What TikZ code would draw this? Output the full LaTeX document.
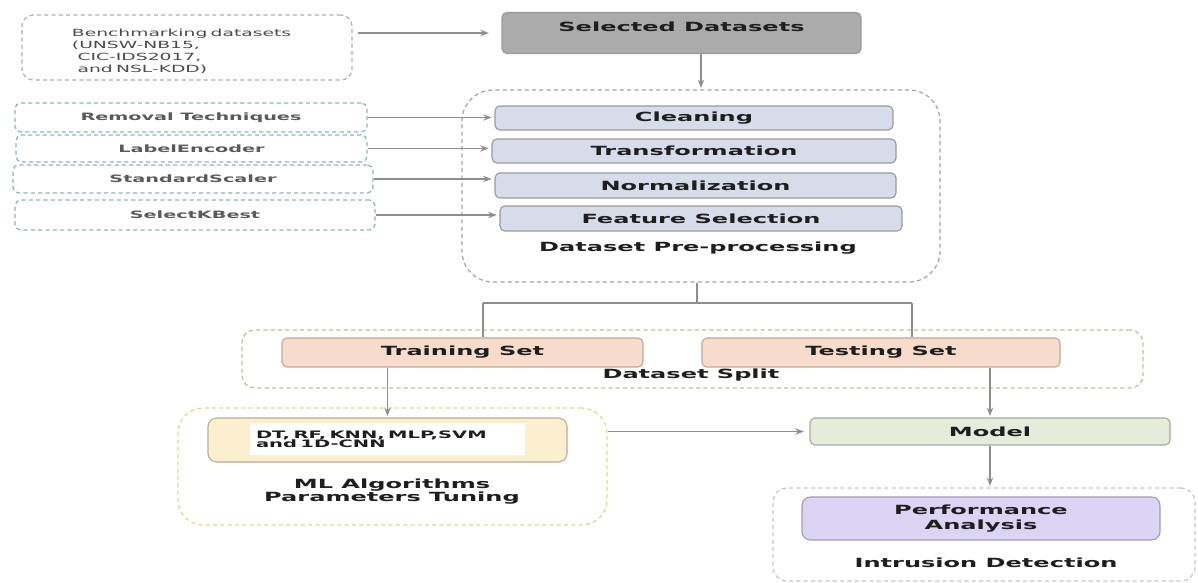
\documentclass[tikz,border=0pt]{standalone}
\usepackage{fontspec}
\usetikzlibrary{arrows.meta}
\newfontfamily\wdfont[FakeStretch=1.9]{DejaVu Sans}
\newcommand\mainlbl{\wdfont\bfseries\fontsize{9}{10.5}\selectfont}
\newcommand\sidelbl{\wdfont\bfseries\fontsize{7.2}{8.5}\selectfont}
\newcommand\benchlbl{\wdfont\fontsize{7}{8.5}\selectfont}
\newcommand\algolbl{\wdfont\bfseries\fontsize{7.3}{6.6}\selectfont}

\definecolor{conncol}{HTML}{8E8E8E}
\definecolor{solidline}{HTML}{9A9A9A}
\definecolor{selfill}{HTML}{ABABAB}
\definecolor{prefill}{HTML}{D7DCEA}
\definecolor{splitfill}{HTML}{F8DCCB}
\definecolor{splitline}{HTML}{C2A897}
\definecolor{algofill}{HTML}{FCEFCF}
\definecolor{algoline}{HTML}{BBAE92}
\definecolor{modelfill}{HTML}{E5ECD9}
\definecolor{modelline}{HTML}{A6AC9E}
\definecolor{perffill}{HTML}{DCD4F4}
\definecolor{perfline}{HTML}{A09AB8}
\definecolor{benchdash}{HTML}{B0B0B0}
\definecolor{sidedash}{HTML}{8FB3BD}
\definecolor{predash}{HTML}{A0A7AE}
\definecolor{splitdash}{HTML}{C6BD98}
\definecolor{algodash}{HTML}{E2D98C}
\definecolor{intrdash}{HTML}{C8C8C8}
\definecolor{sidetext}{HTML}{5A5A5A}
\definecolor{benchtext}{HTML}{4A4A4A}
\definecolor{maintext}{HTML}{1E1E1E}

\tikzset{
  sz/.style 2 args={minimum width=#1*0.025cm, minimum height=#2*0.025cm},
  solidbox/.style={draw=solidline, line width=0.8pt, rounded corners=3.5pt,
    inner sep=0pt, font=\mainlbl, text=maintext},
  dashbox/.style={draw=#1, dashed, dash pattern=on 3pt off 2.2pt,
    line width=0.9pt, inner sep=0pt},
  sidebox/.style={dashbox=sidedash, rounded corners=4pt, font=\sidelbl, text=sidetext},
  caption/.style={font=\mainlbl, text=maintext, align=center, inner sep=0pt},
  conn/.style={draw=conncol, line width=1.1pt},
  arr/.style={conn, -{Stealth[length=6pt,width=4.5pt]}},
}

\begin{document}
\begin{tikzpicture}[x=0.025cm, y=-0.025cm]
\useasboundingbox[fill=white] (0,0) rectangle (1198,583);

% source datasets
\node[dashbox=benchdash, rounded corners=8pt, sz={330}{65}, text width=5.75cm,
      inner xsep=1.25cm, align=left, font=\benchlbl, text=benchtext, text height=11pt]
  (bench) at (187,47.5)
  {Benchmarking datasets\\(UNSW-NB15,\\\hspace*{4pt}CIC-IDS2017,\\\hspace*{4pt}and NSL-KDD)};
\node[solidbox, fill=selfill, sz={359}{41}, text depth=9pt] (sel) at (681.5,33)
  {Selected Datasets};

% pre-processing stage
\node[dashbox=predash, rounded corners=22pt, sz={478}{192}] (pre) at (701,186) {};
\node[solidbox, fill=prefill, sz={398}{24}] (clean) at (694,118) {Cleaning};
\node[solidbox, fill=prefill, sz={404}{24}] (trans) at (694,151) {Transformation};
\node[solidbox, fill=prefill, sz={401}{25}] (norm) at (695.5,185.5) {Normalization};
\node[solidbox, fill=prefill, sz={402}{25}] (feat) at (701,218.5) {Feature Selection};
\node[caption] (prelbl) at (698,248) {Dataset Pre-processing};

% techniques used in each step
\node[sidebox, sz={352}{29}] (rem) at (191,117.5) {Removal Techniques};
\node[sidebox, sz={351}{27}] (lab) at (191.5,148.5) {LabelEncoder};
\node[sidebox, sz={360}{28}] (std) at (193,179) {StandardScaler};
\node[sidebox, sz={360}{30}] (skb) at (195,215) {SelectKBest};

% split stage
\node[dashbox=splitdash, rounded corners=9pt, sz={901}{58}] (split) at (692.5,359) {};
\node[solidbox, draw=splitline, fill=splitfill, sz={361}{29}] (train) at (462.5,352.5) {Training Set};
\node[solidbox, draw=splitline, fill=splitfill, sz={358}{29}] (test) at (881,352.5) {Testing Set};
\node[caption] (splitlbl) at (691,375) {Dataset Split};

% algorithms and tuning
\node[dashbox=algodash, rounded corners=18pt, sz={429}{117}] (ml) at (392.5,466.5) {};
\node[solidbox, draw=algoline, fill=algofill, rounded corners=6pt, sz={359}{44}] (mlin) at (387.5,440) {};
\node[fill=white, sz={275}{32}, text width=263*0.025cm, inner xsep=6*0.025cm,
      inner ysep=0pt, align=left, font=\algolbl, text=maintext]
  (algos) at (387.5,439) {DT, RF, KNN, MLP,SVM\\and 1D-CNN};
\node[caption, font=\wdfont\bfseries\fontsize{9}{9.3}\selectfont] (mllbl) at (392,492)
  {ML Algorithms\\Parameters Tuning};

% model and evaluation
\node[solidbox, draw=modelline, fill=modelfill, sz={360}{27}] (model) at (990,431.5) {Model};
\node[dashbox=intrdash, rounded corners=10pt, sz={422}{93}] (intr) at (984,534.5) {};
\node[solidbox, draw=perfline, fill=perffill, rounded corners=6pt, sz={358}{43},
      align=center, font=\wdfont\bfseries\fontsize{9}{10.6}\selectfont]
  (perf) at (981,518.5) {Performance\\Analysis};
\node[caption] (intrlbl) at (986,563) {Intrusion Detection};

% connectors
\draw[arr, shorten <=4pt, shorten >=9pt] (bench.east |- sel.west) -- (sel.west);
\draw[arr, shorten >=1pt] (sel.south -| pre.north) -- (pre.north);
\draw[arr, shorten >=2pt] (rem.east) -- (rem.east -| clean.west);
\draw[arr, shorten >=2pt] (lab.east) -- (lab.east -| trans.west);
\draw[arr, shorten >=2pt] (std.east) -- (std.east -| norm.west);
\draw[arr, shorten >=2pt] (skb.east) -- (skb.east -| feat.west);

\coordinate (fork) at (697,303);
\coordinate (ftrain) at (483,303);
\coordinate (ftest) at (912,303);
\draw[conn] (pre.south -| fork) -- (fork);
\draw[conn] (ftrain) -- (ftest);
\draw[conn] (ftrain) -- (ftrain |- train.north);
\draw[conn] (ftest) -- (ftest |- test.north);

\draw[arr, shorten >=1pt] (train.south -| mlin.north) -- (mlin.north);
\draw[arr, shorten >=1pt] (test.south -| model.north) -- (model.north);
\draw[arr, shorten >=4pt] (ml.east |- model.west) -- (model.west);
\draw[arr, shorten >=1pt] (model.south) -- (model.south |- intr.north);
\end{tikzpicture}
\end{document}
